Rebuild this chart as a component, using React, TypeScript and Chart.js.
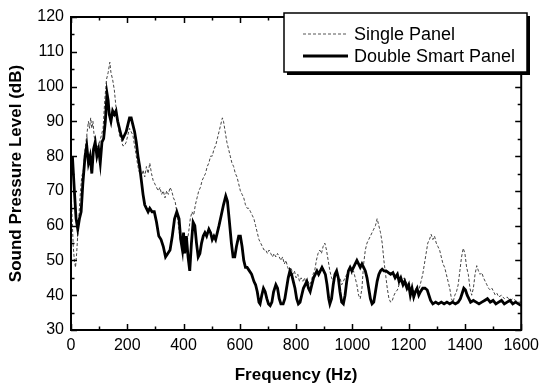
import React, { useEffect, useRef } from "react";
import { Chart, registerables } from "chart.js";

Chart.register(...registerables);

const xTicks = [0, 200, 400, 600, 800, 1000, 1200, 1400, 1600];
const yTicks = [30, 40, 50, 60, 70, 80, 90, 100, 110, 120];
const seriesLabels = ["Single Panel", "Double Smart Panel"];

// [frequency (Hz), SPL (dB)]
const singlePanel: [number, number][] = [
  [0, 72], [4, 62], [8, 54], [12, 50], [16, 48], [20, 52], [26, 60], [32, 68], [38, 74], [44, 76],
  [50, 82], [56, 86], [62, 90], [66, 88], [70, 91], [74, 88], [78, 90], [82, 86], [86, 84], [90, 82],
  [96, 83], [102, 84], [108, 86], [114, 88], [120, 96], [126, 102], [132, 104], [138, 107], [142, 104], [148, 102],
  [154, 99], [160, 94], [166, 90], [172, 86], [178, 85], [184, 83], [190, 83], [196, 84], [202, 86], [208, 88],
  [214, 87], [220, 86], [226, 83], [232, 80], [238, 77], [244, 75], [250, 74], [256, 76], [262, 74], [268, 77],
  [274, 75], [280, 78], [286, 75], [292, 73], [298, 72], [304, 71], [310, 70], [316, 71], [322, 69], [328, 70],
  [334, 68], [340, 70], [346, 69], [352, 71], [358, 70], [364, 68], [370, 67], [376, 64], [382, 60], [388, 56],
  [394, 54], [400, 52], [406, 53], [412, 55], [418, 58], [424, 62], [430, 64], [436, 63], [442, 66], [448, 68],
  [454, 70], [460, 71], [466, 73], [472, 74], [478, 75], [484, 77], [490, 78], [496, 80], [502, 80], [508, 82],
  [514, 83], [520, 85], [526, 87], [532, 89], [538, 91], [542, 90], [548, 87], [554, 84], [560, 82], [566, 80],
  [572, 78], [578, 77], [584, 75], [590, 74], [596, 72], [602, 70], [608, 69], [614, 68], [620, 66], [626, 65],
  [632, 65], [638, 64], [644, 63], [650, 62], [656, 60], [662, 58], [668, 56], [674, 55], [680, 54], [686, 53],
  [692, 53], [698, 52], [704, 53], [710, 52], [716, 51], [722, 52], [728, 51], [734, 52], [740, 51], [746, 50],
  [752, 51], [758, 49], [764, 50], [770, 48], [776, 47], [782, 48], [788, 46], [794, 47], [800, 45], [806, 46],
  [812, 44], [818, 45], [824, 44], [830, 45], [836, 43], [842, 44], [848, 43], [854, 44], [860, 46], [866, 47],
  [872, 50], [878, 52], [884, 53], [890, 52], [896, 54], [902, 55], [908, 53], [914, 50], [920, 47], [926, 45],
  [932, 44], [938, 45], [944, 46], [950, 44], [956, 45], [962, 43], [968, 44], [974, 45], [980, 46], [986, 47],
  [992, 48], [998, 46], [1004, 47], [1010, 45], [1016, 43], [1022, 40], [1028, 39], [1034, 42], [1040, 49], [1046, 53],
  [1052, 55], [1058, 56], [1064, 57], [1070, 58], [1076, 59], [1082, 60], [1088, 62], [1094, 60], [1100, 58], [1106, 55],
  [1112, 50], [1118, 46], [1124, 42], [1130, 39], [1136, 38], [1142, 38.5], [1148, 40], [1154, 41], [1160, 41.5], [1166, 43],
  [1172, 44], [1178, 44.5], [1184, 45], [1190, 44], [1196, 43], [1202, 43.5], [1208, 42], [1214, 41], [1220, 41.5], [1226, 42],
  [1232, 42.5], [1238, 42], [1244, 44], [1250, 46], [1256, 49], [1262, 52], [1268, 55], [1274, 56], [1280, 57.5], [1286, 56],
  [1292, 57], [1298, 55], [1304, 54], [1310, 53], [1316, 51], [1322, 49], [1328, 48], [1334, 46], [1340, 44], [1346, 42],
  [1352, 39], [1358, 38], [1364, 40], [1370, 41], [1376, 43], [1382, 47], [1388, 51], [1394, 53.5], [1400, 52], [1406, 48],
  [1412, 46], [1418, 42], [1424, 40], [1430, 42], [1436, 46], [1442, 48.5], [1448, 47], [1454, 46], [1460, 46.5], [1466, 45],
  [1472, 44], [1478, 43], [1484, 42], [1490, 41.5], [1496, 42], [1502, 41], [1508, 40], [1514, 40.5], [1520, 39.5], [1530, 40],
  [1540, 39], [1550, 39.5], [1560, 38.5], [1570, 39], [1580, 38.5], [1590, 38], [1600, 38],
];

const doubleSmartPanel: [number, number][] = [
  [0, 76], [5, 80], [12, 70], [18, 62], [24, 59], [30, 62], [36, 64], [42, 72], [50, 80], [56, 83],
  [62, 78], [68, 80], [74, 75], [80, 82], [86, 84], [92, 80], [98, 82], [104, 78], [110, 84], [116, 85],
  [122, 90], [128, 98], [132, 96], [136, 92], [142, 90], [148, 93], [154, 92], [160, 93], [166, 90], [172, 88],
  [178, 86], [184, 85], [190, 86], [196, 87], [202, 89], [208, 91], [214, 91], [220, 89], [226, 87], [232, 84],
  [238, 80], [244, 77], [250, 73], [256, 69], [262, 66], [268, 65], [274, 64], [280, 65], [288, 64], [296, 64],
  [304, 61], [312, 57], [320, 56], [328, 54], [336, 51], [344, 52], [352, 53], [360, 57], [368, 62], [376, 64],
  [384, 62], [390, 56], [396, 53], [400, 58], [404, 52], [410, 57], [416, 51], [422, 47], [428, 55], [434, 61],
  [440, 60], [446, 55], [452, 51], [458, 52], [464, 55], [470, 57], [476, 58], [482, 57], [490, 59], [496, 58],
  [502, 56], [508, 57], [514, 56], [520, 58], [526, 60], [534, 63], [542, 66], [550, 68.5], [556, 67], [562, 62],
  [570, 55], [576, 51], [582, 51], [588, 54], [596, 57], [602, 57], [608, 54], [614, 50], [620, 48], [626, 48],
  [634, 47], [642, 46], [650, 44], [656, 43], [662, 41], [668, 38], [672, 37.5], [678, 40], [684, 42], [690, 41],
  [696, 39], [702, 37.5], [708, 37], [714, 38], [720, 41], [728, 43], [734, 42], [740, 39], [746, 37.5], [754, 37.5],
  [760, 39], [766, 42], [772, 45], [778, 47], [784, 46], [790, 44], [796, 42], [802, 39], [808, 37.5], [814, 38],
  [820, 40], [826, 42], [832, 43], [838, 44], [844, 42], [850, 41], [856, 43], [862, 45], [868, 46], [874, 47],
  [880, 46], [886, 47], [892, 48], [898, 47], [904, 46], [910, 43], [916, 39], [920, 37.5], [926, 39], [932, 43],
  [938, 46], [944, 47], [950, 45], [956, 41], [962, 38], [968, 37.5], [974, 40], [980, 44], [986, 47], [992, 48],
  [998, 47], [1004, 48], [1010, 49], [1016, 50], [1022, 49], [1028, 48], [1034, 49], [1040, 48], [1046, 47], [1052, 45],
  [1058, 42], [1064, 39], [1070, 37.5], [1076, 38], [1082, 41], [1088, 44], [1094, 46], [1100, 47], [1106, 47.5], [1112, 47],
  [1120, 47], [1128, 46.5], [1136, 46], [1144, 46.5], [1152, 45], [1160, 46], [1166, 44], [1172, 45], [1180, 43], [1186, 44],
  [1194, 42], [1200, 43], [1206, 40], [1212, 42], [1218, 39.5], [1224, 41], [1230, 42], [1236, 40], [1242, 41], [1250, 42],
  [1258, 42], [1266, 41.5], [1272, 40], [1278, 38.5], [1286, 37.5], [1296, 38], [1306, 37.5], [1316, 38], [1326, 37.5], [1336, 38],
  [1346, 37.5], [1356, 38], [1366, 37.5], [1376, 38], [1384, 39], [1390, 40.5], [1396, 42], [1402, 41.5], [1408, 40], [1414, 39],
  [1420, 38], [1430, 38.5], [1440, 38], [1450, 37.5], [1460, 38], [1470, 38.5], [1480, 39], [1490, 38], [1500, 38.5], [1510, 37.5],
  [1520, 38], [1530, 38.5], [1540, 37.5], [1550, 38], [1560, 38.5], [1570, 37.5], [1580, 38], [1590, 37.5], [1600, 37],
];

const FONT = "'Liberation Sans', Arial, sans-serif";

const framePlugin = {
  id: "frameTicks",
  afterDatasetsDraw(chart: any) {
    const { ctx, chartArea: a, scales } = chart;
    const xs = scales.x;
    const ys = scales.y;
    ctx.save();
    ctx.strokeStyle = "#000";
    ctx.lineWidth = 1.5;
    ctx.beginPath();
    for (let v = 0; v <= 1600; v += 100) {
      const px = Math.round(xs.getPixelForValue(v)) + 0.5;
      const len = v % 200 === 0 ? 6 : 3.5;
      ctx.moveTo(px, a.bottom);
      ctx.lineTo(px, a.bottom - len);
      ctx.moveTo(px, a.top);
      ctx.lineTo(px, a.top + len);
    }
    for (let v = 30; v <= 120; v += 5) {
      const py = Math.round(ys.getPixelForValue(v)) + 0.5;
      const len = v % 10 === 0 ? 6 : 3.5;
      ctx.moveTo(a.left, py);
      ctx.lineTo(a.left + len, py);
      ctx.moveTo(a.right, py);
      ctx.lineTo(a.right - len, py);
    }
    ctx.stroke();
    ctx.lineWidth = 2;
    ctx.strokeRect(a.left, a.top, a.right - a.left, a.bottom - a.top);

    // legend box
    const bx = 284, by = 13, bw = 243, bh = 59;
    ctx.fillStyle = "#000";
    ctx.fillRect(bx + 3, by + 3, bw, bh);
    ctx.fillStyle = "#fff";
    ctx.fillRect(bx, by, bw, bh);
    ctx.lineWidth = 1.5;
    ctx.strokeStyle = "#000";
    ctx.strokeRect(bx, by, bw, bh);

    const rows = [
      { y: 34, dash: [3, 2], w: 1, color: "#555" },
      { y: 56, dash: [], w: 2.8, color: "#000" },
    ];
    rows.forEach((r, i) => {
      ctx.beginPath();
      ctx.setLineDash(r.dash);
      ctx.lineWidth = r.w;
      ctx.strokeStyle = r.color;
      ctx.moveTo(303, r.y);
      ctx.lineTo(348, r.y);
      ctx.stroke();
      ctx.setLineDash([]);
      ctx.fillStyle = "#000";
      ctx.font = `18px ${FONT}`;
      ctx.textBaseline = "middle";
      ctx.textAlign = "left";
      ctx.fillText(seriesLabels[i], 354, r.y + 1);
    });
    ctx.restore();
  },
};

export default function App() {
  const ref = useRef<HTMLCanvasElement | null>(null);
  useEffect(() => {
    document.body.style.margin = "0";
    const canvas = ref.current!;
    const chart = new Chart(canvas, {
      type: "line",
      data: {
        datasets: [
          {
            label: seriesLabels[1],
            data: doubleSmartPanel.map(([x, y]) => ({ x, y })),
            borderColor: "#000",
            borderWidth: 2.8,
            pointRadius: 0,
            tension: 0,
            order: 0,
          },
          {
            label: seriesLabels[0],
            data: singlePanel.map(([x, y]) => ({ x, y })),
            borderColor: "#444",
            borderWidth: 1,
            borderDash: [3, 2],
            pointRadius: 0,
            tension: 0,
            order: 1,
          },
        ],
      },
      options: {
        animation: false,
        responsive: false,
        events: [],
        layout: { padding: { top: 17, right: 19, left: 0, bottom: 0 } },
        plugins: { legend: { display: false }, tooltip: { enabled: false } },
        scales: {
          x: {
            type: "linear",
            min: 0,
            max: 1600,
            afterBuildTicks: (s: any) => {
              s.ticks = xTicks.map((v) => ({ value: v }));
            },
            afterFit: (s: any) => {
              s.height = 58;
            },
            grid: { display: false, drawTicks: false },
            border: { display: false },
            ticks: {
              padding: 6,
              maxRotation: 0,
              autoSkip: false,
              color: "#000",
              font: { family: FONT, size: 16 },
              callback: (v: any) => String(v),
            },
            title: {
              display: true,
              text: "Frequency (Hz)",
              color: "#000",
              font: { family: FONT, size: 17, weight: "bold" },
              padding: { top: 0, bottom: 2 },
            },
          },
          y: {
            type: "linear",
            min: 30,
            max: 120,
            afterBuildTicks: (s: any) => {
              s.ticks = yTicks.map((v) => ({ value: v }));
            },
            afterFit: (s: any) => {
              s.width = 71;
            },
            grid: { display: false, drawTicks: false },
            border: { display: false },
            ticks: {
              padding: 7,
              autoSkip: false,
              color: "#000",
              font: { family: FONT, size: 16 },
              callback: (v: any) => String(v),
            },
            title: {
              display: true,
              text: "Sound Pressure Level (dB)",
              color: "#000",
              font: { family: FONT, size: 17, weight: "bold" },
              padding: { top: 6, bottom: 0 },
            },
          },
        },
      },
      plugins: [framePlugin],
    });
    return () => chart.destroy();
  }, []);
  return (
    <div style={{ position: "absolute", left: 0, top: 0, width: 545, height: 388, background: "#fff" }}>
      <canvas ref={ref} width={545} height={388} />
    </div>
  );
}
